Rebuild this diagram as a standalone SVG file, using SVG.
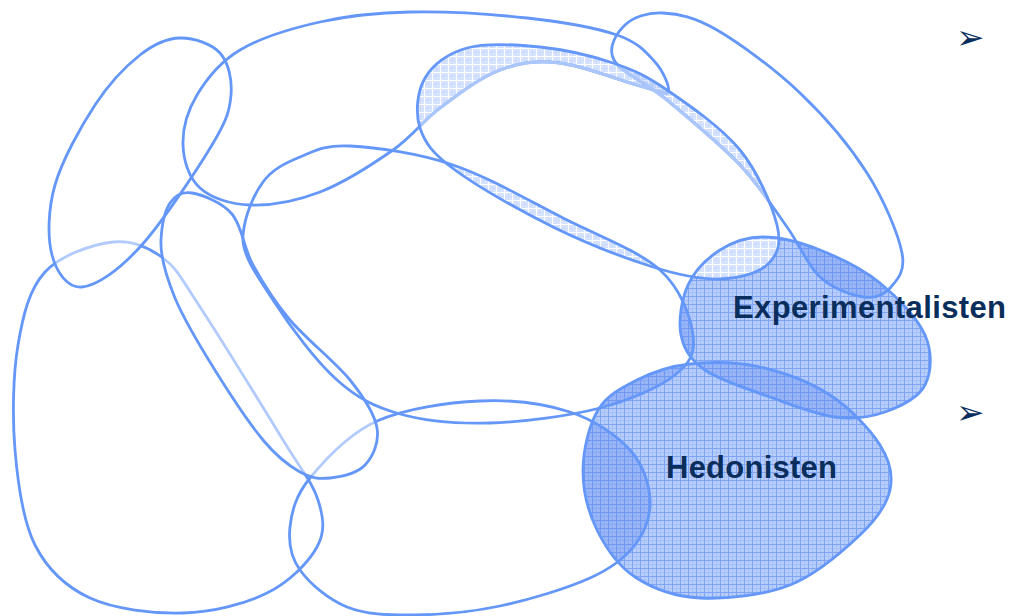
<svg xmlns="http://www.w3.org/2000/svg" xmlns:xlink="http://www.w3.org/1999/xlink" width="1011" height="616" viewBox="0 0 1011 616">
  <style>
    .outline { fill: none; stroke: #6497f8; stroke-width: 2.8; stroke-linejoin: round; }
    .faint { fill: none; stroke: #aac6fb; stroke-width: 3.2; }
    .veil { fill: #ffffff; fill-opacity: 0.5; stroke: none; }
    .deep { fill: #5082f0; fill-opacity: 0.3; stroke: none; }
    .lbl { font-family: "Liberation Sans", Arial, sans-serif; font-weight: bold; font-size: 31px; fill: #0a2e5c; }
    .bul { font-family: "DejaVu Sans", sans-serif; font-size: 34px; fill: #0a2e5c; }
  </style>
  <defs>
    <!-- grid fill of the highlighted milieus -->
    <pattern id="gridMid" width="8" height="8" patternUnits="userSpaceOnUse">
      <rect width="8" height="8" fill="#b6ccfb"/>
      <path d="M0,4.5H8M4.5,0V8" stroke="#a6c0fa" stroke-width="1"/>
      <path d="M0,0.5H8M0.5,0V8" stroke="#7fa3f5" stroke-width="1"/>
    </pattern>
    <!-- pale grid where the central milieu overlaps others -->
    <pattern id="gridLight" width="8" height="8" patternUnits="userSpaceOnUse">
      <rect width="8" height="8" fill="#d8e4fd"/>
      <path d="M0,4.5H8M4.5,0V8" stroke="#cddcfc" stroke-width="1"/>
      <path d="M0,0.5H8M0.5,0V8" stroke="#ffffff" stroke-width="1"/>
    </pattern>

    <path id="shpA" d="M180,38 C193.3,37.7 211.5,43.5 220,53 C228.5,62.5 232.3,79.7 231,95 C229.7,110.3 227.2,119.7 212,145 C196.8,170.3 161.7,223.3 140,247 C118.3,270.7 96.7,285.7 82,287 C67.3,288.3 56.5,272 52,255 C47.5,238 47.8,210 55,185 C62.2,160 80.8,126.7 95,105 C109.2,83.3 125.8,66.2 140,55 C154.2,43.8 166.7,38.3 180,38 Z"/>
    <path id="shpB" d="M410,12 C444.5,11.3 492.5,14.2 527,18 C561.5,21.8 595.7,27.7 617,35 C638.3,42.3 646.5,52.5 655,62 C663.5,71.5 670.5,88 668,92 C665.5,96 658,90.8 640,86 C622,81.2 583.3,65.7 560,63 C536.7,60.3 520,62.5 500,70 C480,77.5 457.8,94.7 440,108 C422.2,121.3 413,136 393,150 C373,164 343.8,182.8 320,192 C296.2,201.2 270,205.7 250,205 C230,204.3 211.2,198 200,188 C188.8,178 183.5,160.5 183,145 C182.5,129.5 187.5,110.8 197,95 C206.5,79.2 219.5,62.2 240,50 C260.5,37.8 291.7,28.3 320,22 C348.3,15.7 375.5,12.7 410,12 Z"/>
    <path id="shpC" d="M467,48 C486.2,42.8 515.7,44.5 540,47 C564.3,49.5 591.8,55.8 613,63 C634.2,70.2 645.8,75.5 667,90 C688.2,104.5 721.7,127.5 740,150 C758.3,172.5 772.3,206 777,225 C781.7,244 777.5,255 768,264 C758.5,273 739.2,278.5 720,279 C700.8,279.5 680.8,275.7 653,267 C625.2,258.3 586,243.2 553,227 C520,210.8 477.2,186.5 455,170 C432.8,153.5 425,143.3 420,128 C415,112.7 417.2,91.3 425,78 C432.8,64.7 447.8,53.2 467,48 Z"/>
    <path id="shpH" d="M663,13 C678.3,13.8 694.2,16.7 717,30 C739.8,43.3 775,69.2 800,93 C825,116.8 850,146.3 867,173 C884,199.7 898.2,233.8 902,253 C905.8,272.2 896.5,280.7 890,288 C883.5,295.3 874.7,298.8 863,297 C851.3,295.2 832.7,288.7 820,277 C807.3,265.3 800.3,245.7 787,227 C773.7,208.3 760,186.2 740,165 C720,143.8 688,117.5 667,100 C646,82.5 621,72.5 614,60 C607,47.5 616.8,32.8 625,25 C633.2,17.2 647.7,12.2 663,13 Z"/>
    <path id="shpD" d="M350,146 C375.5,147.3 417.5,153 453,165 C488.5,177 528.5,200.5 563,218 C597.5,235.5 638.3,250.5 660,270 C681.7,289.5 690.5,317.5 693,335 C695.5,352.5 690.5,362.8 675,375 C659.5,387.2 630.8,400 600,408 C569.2,416 523.3,422 490,423 C456.7,424 425.5,421.2 400,414 C374.5,406.8 357.8,398.5 337,380 C316.2,361.5 290.7,327.2 275,303 C259.3,278.8 241,255.2 243,235 C245,214.8 253.5,195 263,182 C272.5,169 285.5,163 300,157 C314.5,151 324.5,144.7 350,146 Z"/>
    <path id="shpF" d="M192,193 C202.3,194.8 221.8,202 232,214 C242.2,226 243.3,247.3 253,265 C262.7,282.7 273.8,300.8 290,320 C306.2,339.2 335.5,362 350,380 C364.5,398 374.5,413.8 377,428 C379.5,442.2 372.8,456.7 365,465 C357.2,473.3 340.8,476.8 330,478 C319.2,479.2 311.2,478.3 300,472 C288.8,465.7 277.5,457.5 263,440 C248.5,422.5 227.7,390.7 213,367 C198.3,343.3 183.7,319.2 175,298 C166.3,276.8 160.2,255.8 161,240 C161.8,224.2 164.8,210.8 170,203 C175.2,195.2 181.7,191.2 192,193 Z"/>
    <path id="shpE" d="M113,242 C132.7,239.7 148.5,247.2 163,258 C177.5,268.8 180,276.7 200,307 C220,337.3 263.3,407.8 283,440 C302.7,472.2 312.3,482.2 318,500 C323.7,517.8 325.5,531.5 317,547 C308.5,562.5 289.3,582 267,593 C244.7,604 212.5,612.2 183,613 C153.5,613.8 114.7,609.3 90,598 C65.3,586.7 47.5,569.7 35,545 C22.5,520.3 17.8,483.3 15,450 C12.2,416.7 13,374.7 18,345 C23,315.3 29.2,289.2 45,272 C60.8,254.8 93.3,244.3 113,242 Z"/>
    <path id="shpG" d="M480,401 C512.2,399.5 545,403.8 570,412 C595,420.2 616.7,435.3 630,450 C643.3,464.7 649.2,484.2 650,500 C650.8,515.8 645,532 635,545 C625,558 612.5,567.8 590,578 C567.5,588.2 529.5,599.8 500,606 C470.5,612.2 438.5,614.8 413,615 C387.5,615.2 365.8,614.5 347,607 C328.2,599.5 309.5,583.3 300,570 C290.5,556.7 288.3,542.3 290,527 C291.7,511.7 295.5,495.7 310,478 C324.5,460.3 348.7,433.8 377,421 C405.3,408.2 447.8,402.5 480,401 Z"/>
    <path id="shpX" d="M763,237 C779.7,237 800.5,242.3 820,250 C839.5,257.7 862.5,268.8 880,283 C897.5,297.2 917.5,318 925,335 C932.5,352 931.7,372.2 925,385 C918.3,397.8 900,406.7 885,412 C870,417.3 854.2,419.5 835,417 C815.8,414.5 791.7,404.8 770,397 C748.3,389.2 719.8,380.3 705,370 C690.2,359.7 683.8,349.2 681,335 C678.2,320.8 681.5,299.2 688,285 C694.5,270.8 707.5,258 720,250 C732.5,242 746.3,237 763,237 Z"/>
    <path id="shpY" d="M690,364 C710.5,361.8 736.7,361.8 760,367 C783.3,372.2 810,382 830,395 C850,408 870,429.2 880,445 C890,460.8 893.3,475 890,490 C886.7,505 876.7,519.2 860,535 C843.3,550.8 816.7,574.5 790,585 C763.3,595.5 725.8,599.3 700,598 C674.2,596.7 652.2,588.3 635,577 C617.8,565.7 605.7,547.8 597,530 C588.3,512.2 582.8,490 583,470 C583.2,450 589,425 598,410 C607,395 621.7,387.7 637,380 C652.3,372.3 669.5,366.2 690,364 Z"/>

    <clipPath id="clipC"><use xlink:href="#shpC"/></clipPath>
    <clipPath id="clipB"><use xlink:href="#shpB"/></clipPath>
    <clipPath id="clipX"><use xlink:href="#shpX"/></clipPath>
    <clipPath id="clipY"><use xlink:href="#shpY"/></clipPath>
  </defs>

  <rect width="1011" height="616" fill="#ffffff"/>

  <!-- grid fills of the two highlighted milieus -->
  <g id="fills">
    <use xlink:href="#shpX" fill="url(#gridMid)"/>
    <use xlink:href="#shpY" fill="url(#gridMid)"/>
    <g clip-path="url(#clipX)">
      <use xlink:href="#shpY" class="deep"/>
      <use xlink:href="#shpH" class="deep"/>
      <use xlink:href="#shpD" class="deep"/>
    </g>
    <g clip-path="url(#clipY)">
      <use xlink:href="#shpG" class="deep"/>
      <use xlink:href="#shpD" class="deep"/>
    </g>
    <!-- pale grid inside the central ellipse where it overlaps its neighbours -->
    <g clip-path="url(#clipC)">
      <use xlink:href="#shpB" fill="url(#gridLight)"/>
      <use xlink:href="#shpD" fill="url(#gridLight)"/>
      <use xlink:href="#shpH" fill="url(#gridLight)"/>
      <use xlink:href="#shpX" fill="url(#gridLight)"/>
      <g clip-path="url(#clipB)">
        <use xlink:href="#shpH" fill="#7aa3f5" fill-opacity="0.25"/>
      </g>
    </g>
  </g>

  <!-- outlines lying underneath the veiled shapes -->
  <g id="milieu-e"><use xlink:href="#shpE" class="outline"/></g>
  <g id="milieu-g"><use xlink:href="#shpG" class="outline"/></g>

  <!-- translucent white bodies that soften the lines below them -->
  <use xlink:href="#shpA" class="veil"/>
  <use xlink:href="#shpF" class="veil"/>

  <g id="milieu-b"><use xlink:href="#shpB" class="outline"/></g>
  <g id="milieu-a"><use xlink:href="#shpA" class="outline"/></g>
  <g id="milieu-f"><use xlink:href="#shpF" class="outline"/></g>
  <g id="milieu-h"><use xlink:href="#shpH" class="outline"/></g>
  <g id="milieu-d"><use xlink:href="#shpD" class="outline"/></g>

  <!-- softened edges inside the central ellipse -->
  <g clip-path="url(#clipC)">
    <use xlink:href="#shpB" class="faint"/>
    <use xlink:href="#shpH" class="faint"/>
  </g>

  <g id="milieu-c"><use xlink:href="#shpC" class="outline"/></g>

  <g id="experimentalisten">
    <use xlink:href="#shpX" class="outline"/>
    <text x="733" y="318" class="lbl" textLength="273">Experimentalisten</text>
  </g>
  <g id="hedonisten">
    <use xlink:href="#shpY" class="outline"/>
    <text x="666" y="478" class="lbl" textLength="171">Hedonisten</text>
  </g>

  <!-- bullet markers of the side text column -->
  <g id="bullets">
    <text x="956" y="49" class="bul">➢</text>
    <text x="956" y="424" class="bul">➢</text>
  </g>
</svg>
